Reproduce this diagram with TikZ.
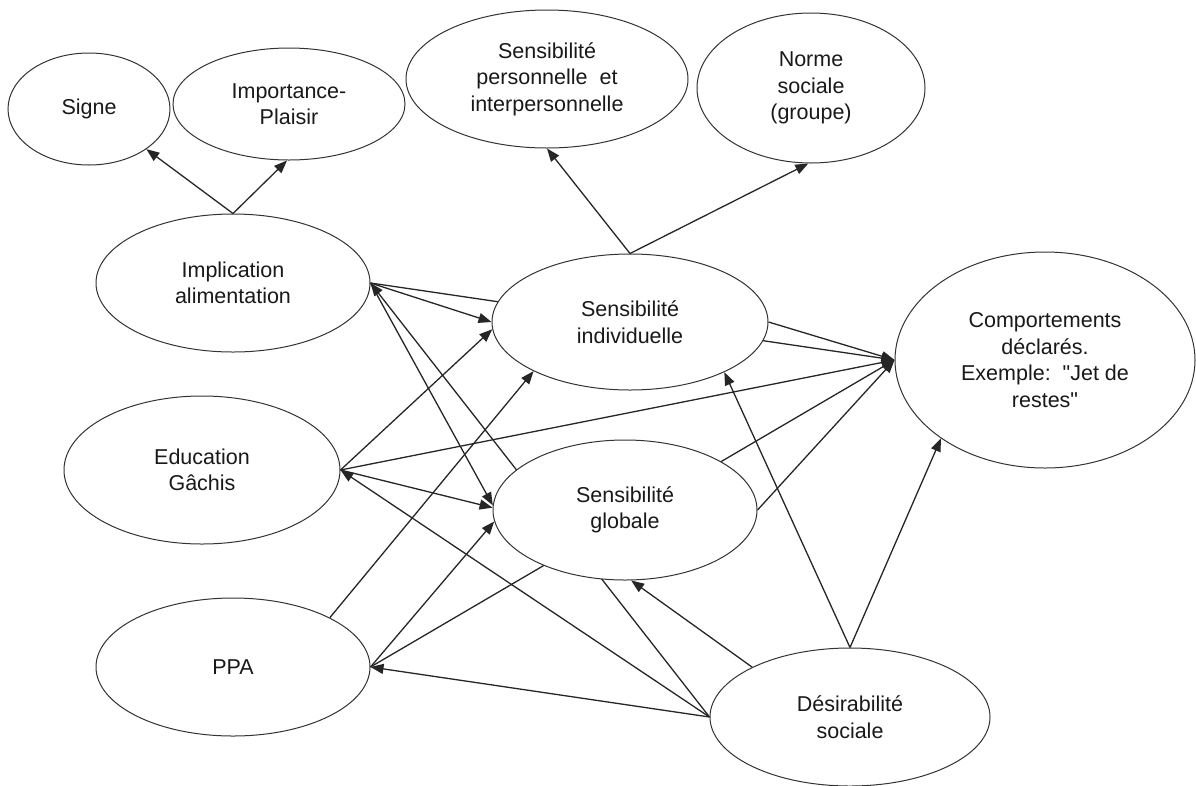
\documentclass[tikz,border=0pt]{standalone}
\usepackage{fontspec}
\setmainfont{Liberation Sans}[Ligatures=TeXOff]
\usetikzlibrary{shapes.geometric,arrows.meta}
\pgfdeclarelayer{edges}
\pgfsetlayers{edges,main}
\begin{document}
\begin{tikzpicture}[x=1pt,y=-1pt,
  bubble/.style={ellipse,draw=black!80,line width=1pt,fill=white,inner sep=0pt,
    align=center,text=black!90,font=\fontsize{21.5}{26.5}\selectfont},
  link/.style={line width=1.3pt,draw=black!85,-{Triangle[length=13pt,width=10pt]}}]
\useasboundingbox (0,0) rectangle (1196,785);

% constructs
\node[bubble,minimum width=162pt,minimum height=112pt] (signe) at (89,109) {Signe};
\node[bubble,minimum width=232pt,minimum height=112pt] (imp) at (289,104) {Importance-\\Plaisir};
\node[bubble,minimum width=282pt,minimum height=138pt] (spers) at (547,79) {Sensibilité\\personnelle\ \ et\\interpersonnelle};
\node[bubble,minimum width=228pt,minimum height=150pt] (norme) at (811,88) {Norme\\sociale\\(groupe)};
\node[bubble,minimum width=274pt,minimum height=138pt] (impl) at (233,283) {Implication\\alimentation};
\node[bubble,minimum width=276pt,minimum height=136pt] (sind) at (630,322) {Sensibilité\\individuelle};
\node[bubble,minimum width=300pt,minimum height=216pt] (comp) at (1045,360) {Comportements\\déclarés.\\Exemple:\ \ "Jet de\\restes"};
\node[bubble,minimum width=276pt,minimum height=148pt] (educ) at (202,470) {Education\\Gâchis};
\node[bubble,minimum width=264pt,minimum height=140pt] (sglob) at (625,510) {Sensibilité\\globale};
\node[bubble,minimum width=274pt,minimum height=138pt] (ppa) at (233,667) {PPA};
\node[bubble,minimum width=280pt,minimum height=138pt] (desir) at (850,717) {Désirabilité\\sociale};

% relations, drawn behind the ellipses
\begin{pgfonlayer}{edges}
\draw[link] (impl.north) -- (signe.-35);
\draw[link] (impl.north) -- (imp.-92);
\draw[link] (sind.north) -- (spers.south);
\draw[link] (sind.north) -- (norme.-92);

\draw[link] (impl.east) -- (sind.west);
\draw[link] (impl.east) -- (comp.west);
\draw[link] (impl.east) -- (sglob.178);
\draw[link] (desir.west) -- (impl.east);

\draw[link] (educ.east) -- (sind.183);
\draw[link] (educ.east) -- (comp.west);
\draw[link] (educ.east) -- (sglob.179);
\draw[link] (desir.west) -- (educ.east);

\draw[link] (ppa.27) -- (sind.207);
\draw[link] (ppa.east) -- (sglob.185);
\draw[link] (ppa.east) -- (comp.west);
\draw[link] (desir.west) -- (ppa.east);

\draw[link] (desir.153) -- (sglob.-85);
\draw[link] (desir.north) -- (sind.-28);
\draw[link] (desir.north) -- (comp.217);
\draw[link] (sind.east) -- (comp.west);
\draw[link] (sglob.east) -- (comp.west);
\end{pgfonlayer}
\end{tikzpicture}
\end{document}
